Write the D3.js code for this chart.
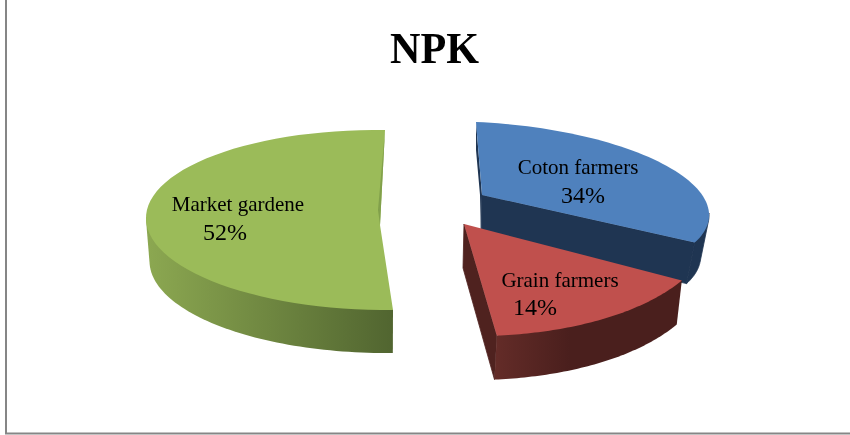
<!DOCTYPE html>
<html><head><meta charset="utf-8">
<style>html,body{margin:0;padding:0;background:#fff;overflow:hidden}svg{display:block;filter:blur(.35px)}text{font-family:"Liberation Serif",serif;fill:#000}</style>
<script src="https://cdn.jsdelivr.net/npm/d3@7"></script></head>
<body><svg id="c" width="850" height="435"></svg>
<script>
const titleText = "NPK";
const categories = ["Coton farmers", "Grain farmers", "Market gardene"];
const shares = [34, 14, 52];
const shareLabels = ["34%", "14%", "52%"];
const topColors = ["#4f81bd", "#c0504d", "#9bbb59"];
const wallColors = [["#1f3552", "#1f3552"], ["#642c28", "#4a1f1d"], ["#8ca851", "#516530"]];
const wallFade = [1, .4, 1];
const cutColors = ["#1f3552", "#4f221f", "#81a04b"];

// view of each exploded wedge in the tilted plane
const views = [
  {apex:[482,195], c:[482,203], rx:227, ry:81, tiltY:10, skewX:-6, a:[0,112], depth:41, shrink:.985, dxDown:-5},
  {apex:[464,224], c:[476,230], rx:234, ry:106, tiltY:0, skewX:0, a:[118.4,174.9], depth:44, shrink:.985, dxDown:-2},
  {apex:[380,225], c:[382,220], rx:236, ry:90, tiltY:3, skewX:3, a:[176.6,360], depth:43, shrink:.985, dxDown:0}
];
const labelPos = [[578,174,583,203],[560,287,535,315],[238,211,225,240]];

const svg = d3.select("#c");
const defs = svg.append("defs");
const rad = d => d * Math.PI / 180;
const pieGen = d3.pie().sort(null).value(d => d).startAngle(0).endAngle(2 * Math.PI);
const arcs = pieGen(shares);
const line = d3.line();

// frame
svg.append("path").attr("d", line([[6,0],[6,433.5],[850,433.5]])).attr("fill","none").attr("stroke","#868686").attr("stroke-width",2);

function pt(v, deg, down) {
  const t = rad(deg), k = down ? v.shrink : 1;
  return [v.c[0] + k * (v.rx * Math.sin(t) + v.skewX * Math.cos(t)) + (down ? v.dxDown : 0),
          v.c[1] + (v.tiltY * Math.sin(t) - v.ry * Math.cos(t)) + (down ? v.depth : 0)];
}

arcs.forEach((arc, i) => {
  const v = views[i];
  const toDraw = d3.scaleLinear().domain([arc.startAngle, arc.endAngle]).range(v.a);
  const a0 = toDraw(arc.startAngle), a1 = toDraw(arc.endAngle);
  const sample = (p, q) => d3.range(0, 61).map(j => p + (q - p) * j / 60);
  const g = svg.append("g");
  const apexB = [v.apex[0] - 1, v.apex[1] + v.depth];

  // outer wall (only where it faces the viewer); the top face hides its upper part
  const w0 = Math.max(a0, 90), w1 = Math.min(a1, 270);
  const wallSamples = sample(w0, w1);
  const wall = d3.polygonHull(wallSamples.map(t => pt(v, t, false)).concat(wallSamples.map(t => pt(v, t, true))));
  const gid = "wall" + i;
  const lg = defs.append("linearGradient").attr("id", gid).attr("gradientUnits","userSpaceOnUse")
    .attr("x1", d3.min(wall, d => d[0])).attr("x2", d3.max(wall, d => d[0])).attr("y1",0).attr("y2",0);
  lg.append("stop").attr("offset",0).attr("stop-color", wallColors[i][0]);
  lg.append("stop").attr("offset",wallFade[i]).attr("stop-color", wallColors[i][1]);

  // cut faces
  if (i < 2) {
    g.append("path").attr("d", line([v.apex, pt(v,a1,false), pt(v,a1,true), apexB]) + "Z")
      .attr("fill", cutColors[i]).attr("stroke", cutColors[i]).attr("stroke-width", .8);
  }
  if (i === 0) {
    const s = pt(v,a0,false);
    g.append("path").attr("d", line([s, v.apex, apexB, [v.apex[0]-2, v.apex[1]], [s[0], s[1]+28]]) + "Z").attr("fill", cutColors[i]);
  }
  const wallPath = g.append("path").attr("d", line(wall) + "Z").attr("fill", `url(#${gid})`);
  if (i === 0) wallPath.attr("stroke", cutColors[i]).attr("stroke-width", .8);
  // top face
  g.append("path").attr("d", line([v.apex].concat(sample(a0,a1).map(t => pt(v,t,false)))) + "Z").attr("fill", topColors[i]);
  if (i === 2) {
    g.append("path").attr("d", line([pt(v,a1,false), v.apex, [v.apex[0]-2, v.apex[1]-15]]) + "Z").attr("fill", cutColors[i]);
  }
});

// title + labels
svg.append("text").attr("x",434.5).attr("y",63).attr("text-anchor","middle")
  .attr("font-size",45).attr("font-weight","bold").attr("textLength",89).attr("lengthAdjust","spacingAndGlyphs").text(titleText);
categories.forEach((name, i) => {
  const p = labelPos[i];
  svg.append("text").attr("x",p[0]).attr("y",p[1]).attr("text-anchor","middle").attr("font-size",21).text(name);
  svg.append("text").attr("x",p[2]).attr("y",p[3]).attr("text-anchor","middle").attr("font-size",24).text(shareLabels[i]);
});
</script></body></html>
